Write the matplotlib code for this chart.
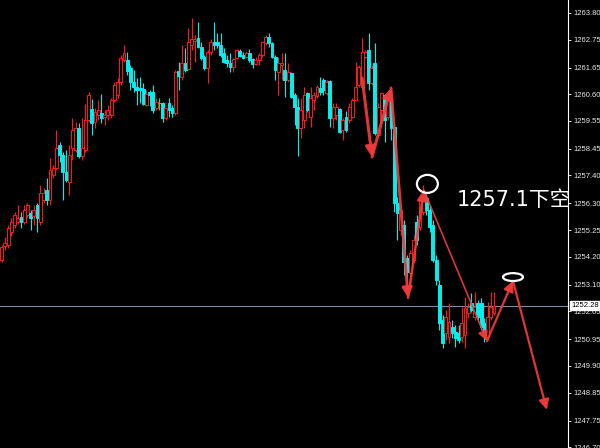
#!/usr/bin/env python3
# -*- coding: utf-8 -*-

import matplotlib
matplotlib.use("Agg")
import matplotlib.pyplot as plt
import matplotlib.transforms as mtransforms
from matplotlib.patches import Rectangle, Ellipse, FancyArrowPatch

# świece
opens = [1254.07, 1254.62, 1254.66, 1255.18, 1255.45, 1255.57, 1255.77, 1255.57, 1255.85, 1255.92,
         1255.81, 1256.24, 1255.57, 1256.44, 1256.83, 1256.44, 1257.42, 1257.70, 1258.60, 1258.21,
         1257.54, 1257.14, 1258.48, 1258.40, 1259.27, 1258.17, 1258.40, 1259.59, 1260.02, 1259.51,
         1259.78, 1259.86, 1259.70, 1259.78, 1259.78, 1260.37, 1260.57, 1261.08, 1261.95, 1261.95,
         1261.63, 1261.08, 1260.88, 1260.85, 1260.81, 1260.18, 1260.69, 1260.69, 1260.06, 1260.24,
         1260.25, 1259.66, 1260.25, 1260.06, 1259.86, 1261.51, 1261.28, 1261.83, 1261.59, 1262.54,
         1262.70, 1262.81, 1262.46, 1262.07, 1261.63, 1262.26, 1262.66, 1262.66, 1262.54, 1262.22,
         1261.95, 1261.83, 1261.67, 1262.03, 1262.30, 1262.14, 1262.07, 1262.22, 1261.99, 1261.79,
         1261.95, 1262.14, 1262.62, 1262.85, 1262.62, 1262.07, 1261.48, 1261.75, 1261.55, 1261.16,
         1261.44, 1260.57, 1260.10, 1259.27, 1259.59, 1260.65, 1259.70, 1260.37, 1260.53, 1260.85,
         1261.16, 1260.65, 1261.12, 1259.66, 1259.78, 1260.02, 1259.19, 1259.70, 1259.59, 1259.70,
         1260.37, 1260.96, 1260.88, 1262.07, 1262.34, 1261.04, 1261.83, 1259.00, 1259.98, 1260.57,
         1259.70, 1260.37, 1259.31, 1256.32, 1255.25, 1255.45, 1254.15, 1253.56, 1254.07, 1255.57,
         1255.37, 1255.96, 1256.51, 1256.04, 1255.45, 1254.07, 1253.09, 1251.71, 1251.20, 1251.04,
         1251.44, 1251.24, 1251.20, 1251.04, 1251.12, 1251.99, 1252.38, 1251.83, 1252.38, 1252.38,
         1251.59, 1251.04, 1251.83, 1251.99]
highs = [1254.66, 1254.98, 1255.45, 1255.73, 1255.96, 1256.24, 1255.96, 1256.24, 1256.32, 1256.04,
         1256.24, 1256.32, 1257.03, 1256.91, 1257.30, 1258.09, 1257.81, 1259.19, 1258.72, 1258.33,
         1258.40, 1258.60, 1259.66, 1259.51, 1259.47, 1259.66, 1260.22, 1260.69, 1260.41, 1260.06,
         1260.37, 1260.61, 1259.98, 1260.18, 1260.45, 1261.08, 1261.24, 1262.14, 1262.54, 1262.26,
         1261.75, 1261.55, 1261.24, 1261.28, 1261.04, 1260.77, 1260.77, 1260.96, 1260.45, 1260.45,
         1260.29, 1260.06, 1260.45, 1260.18, 1261.55, 1261.87, 1262.54, 1262.42, 1263.21, 1263.60,
         1262.93, 1263.44, 1262.66, 1262.14, 1262.34, 1262.77, 1263.44, 1263.01, 1263.01, 1262.42,
         1262.14, 1262.22, 1262.03, 1262.38, 1262.38, 1262.26, 1262.30, 1262.38, 1262.03, 1262.07,
         1262.22, 1262.70, 1262.93, 1263.01, 1262.66, 1262.14, 1262.07, 1262.22, 1262.22, 1261.83,
         1261.48, 1260.65, 1260.45, 1260.45, 1260.88, 1260.69, 1260.88, 1260.69, 1260.96, 1261.28,
         1261.24, 1261.16, 1261.16, 1260.25, 1260.25, 1260.06, 1259.66, 1259.94, 1260.25, 1260.45,
         1261.87, 1261.75, 1262.81, 1262.34, 1263.01, 1261.75, 1262.62, 1260.25, 1260.69, 1260.61,
         1260.49, 1260.45, 1259.39, 1256.55, 1256.24, 1255.65, 1254.27, 1254.47, 1255.06, 1255.85,
         1256.63, 1257.03, 1256.75, 1256.24, 1255.65, 1254.27, 1253.29, 1251.91, 1252.11, 1252.38,
         1251.71, 1251.51, 1251.51, 1252.22, 1252.62, 1252.38, 1252.77, 1252.81, 1252.50, 1252.58,
         1251.79, 1252.42, 1252.81, 1252.81]
lows = [1254.00, 1254.47, 1254.55, 1255.02, 1255.33, 1255.49, 1255.33, 1255.49, 1255.73, 1255.25,
        1255.45, 1255.18, 1255.45, 1256.32, 1256.24, 1256.24, 1257.30, 1257.62, 1257.93, 1256.44,
        1257.14, 1256.63, 1258.01, 1258.33, 1258.09, 1258.01, 1258.33, 1259.51, 1259.00, 1259.27,
        1259.59, 1259.47, 1259.39, 1259.59, 1259.66, 1260.29, 1260.45, 1260.96, 1261.87, 1261.36,
        1260.77, 1260.69, 1260.18, 1260.25, 1260.18, 1260.14, 1260.14, 1259.86, 1259.98, 1259.98,
        1259.51, 1259.59, 1259.70, 1259.70, 1259.78, 1260.77, 1261.16, 1261.48, 1261.55, 1262.34,
        1261.87, 1262.42, 1261.95, 1261.55, 1261.04, 1262.14, 1262.34, 1262.42, 1262.07, 1261.83,
        1261.67, 1261.48, 1261.48, 1261.99, 1262.07, 1261.99, 1262.03, 1261.87, 1261.63, 1261.75,
        1261.75, 1262.07, 1262.54, 1262.46, 1262.03, 1261.16, 1260.57, 1261.16, 1260.49, 1261.08,
        1260.45, 1259.39, 1258.17, 1258.88, 1259.27, 1259.90, 1259.31, 1259.98, 1260.45, 1260.57,
        1260.57, 1260.57, 1259.31, 1259.27, 1259.59, 1259.07, 1258.80, 1259.11, 1259.47, 1259.66,
        1260.33, 1260.88, 1260.85, 1262.03, 1260.77, 1260.96, 1259.00, 1258.92, 1259.47, 1258.72,
        1259.59, 1258.80, 1255.96, 1254.86, 1255.06, 1253.48, 1252.81, 1253.09, 1253.96, 1254.66,
        1255.25, 1255.85, 1255.85, 1255.18, 1254.00, 1253.09, 1251.32, 1250.61, 1250.92, 1250.81,
        1251.00, 1250.65, 1250.81, 1250.85, 1250.61, 1251.79, 1252.03, 1251.71, 1251.71, 1251.32,
        1250.85, 1250.92, 1251.71, 1251.91]
closes = [1254.59, 1254.74, 1255.33, 1255.57, 1255.85, 1255.73, 1255.57, 1256.04, 1256.24, 1255.73,
          1256.04, 1255.73, 1256.71, 1256.71, 1256.44, 1257.62, 1257.70, 1258.48, 1258.21, 1257.54,
          1257.22, 1258.21, 1259.19, 1259.27, 1258.17, 1258.48, 1259.59, 1260.57, 1259.47, 1259.90,
          1259.98, 1259.66, 1259.78, 1259.98, 1260.37, 1260.96, 1261.08, 1262.03, 1262.22, 1261.51,
          1261.08, 1260.88, 1260.77, 1260.77, 1260.22, 1260.61, 1260.57, 1259.98, 1260.29, 1260.24,
          1259.66, 1260.06, 1259.98, 1259.86, 1261.48, 1261.32, 1261.83, 1261.55, 1262.66, 1262.77,
          1262.77, 1262.46, 1262.03, 1261.63, 1262.26, 1262.66, 1262.54, 1262.54, 1262.14, 1261.87,
          1261.83, 1261.67, 1261.99, 1262.34, 1262.11, 1262.03, 1262.22, 1261.95, 1261.79, 1261.95,
          1262.14, 1262.66, 1262.85, 1262.62, 1262.07, 1261.55, 1261.83, 1261.83, 1261.16, 1261.48,
          1260.49, 1260.10, 1259.27, 1259.98, 1260.57, 1259.98, 1260.45, 1260.57, 1260.88, 1260.69,
          1260.77, 1261.08, 1259.66, 1260.10, 1260.10, 1259.11, 1259.59, 1259.19, 1260.10, 1260.37,
          1260.88, 1261.67, 1262.26, 1262.26, 1261.04, 1261.63, 1259.07, 1260.10, 1260.65, 1259.59,
          1260.37, 1259.27, 1256.32, 1255.92, 1256.04, 1254.00, 1253.60, 1254.35, 1254.86, 1254.86,
          1256.44, 1256.63, 1256.04, 1255.37, 1254.07, 1253.29, 1251.59, 1250.81, 1251.83, 1251.63,
          1251.20, 1251.00, 1250.92, 1251.59, 1252.18, 1252.22, 1252.11, 1252.22, 1251.83, 1251.44,
          1251.20, 1251.83, 1252.22, 1252.28]

# skala cen po prawej
tick_prices = [1263.80, 1262.75, 1261.65, 1260.60, 1259.55, 1258.45, 1257.40, 1256.30, 1255.25,
               1254.20, 1253.10, 1252.05, 1250.95, 1249.90, 1248.85, 1247.75, 1246.70]
last_price = 1252.28

# strzałki (indeks świecy, cena)
wave_x = [112.0, 115.1, 121.0, 126.3, 131.2, 150.8, 158.9, 169.4]
wave_y = [1261.24, 1258.13, 1260.85, 1252.58, 1256.83, 1250.88, 1253.25, 1248.17]
wave_lw = [2.2, 2.2, 2.0, 1.8, 1.2, 1.6, 1.6]

# kółka
mark_x = [132.3, 158.9]
mark_y = [1257.07, 1253.40]
mark_w = [6.5, 6.2]
mark_h = [0.71, 0.31]

label_text = "1257.1下空"

UP = "#ff1a1a"
DOWN = "#00f0f0"
DOJI = "#00ff00"


def draw_candles(ax):
    w = 0.9
    for i in range(len(opens)):
        o, h, l, c = opens[i], highs[i], lows[i], closes[i]
        top, bot = max(o, c), min(o, c)
        if c > o:
            col, face = UP, "black"
        elif c < o:
            col, face = DOWN, DOWN
        else:
            col, face = DOJI, DOJI
        ax.vlines(i, top, h, color=col, lw=0.8, zorder=1)
        ax.vlines(i, l, bot, color=col, lw=0.8, zorder=1)
        ax.add_patch(Rectangle((i - w / 2, bot), w, max(top - bot, 0.02),
                               facecolor=face, edgecolor=col, lw=0.7, zorder=2))


def draw_waves(ax):
    for k in range(len(wave_x) - 1):
        arr = FancyArrowPatch((wave_x[k], wave_y[k]), (wave_x[k + 1], wave_y[k + 1]),
                              arrowstyle="-|>,head_length=0.6,head_width=0.3",
                              mutation_scale=10, lw=wave_lw[k], color="#f23a3a",
                              shrinkA=0, shrinkB=0, alpha=0.92, zorder=4)
        ax.add_patch(arr)
    for k in range(len(mark_x)):
        ax.add_patch(Ellipse((mark_x[k], mark_y[k]), mark_w[k], mark_h[k],
                             fill=False, edgecolor="white", lw=1.6, zorder=5))


def main():
    fig = plt.figure(figsize=(6, 4.48), dpi=100, facecolor="black")
    ax = fig.add_axes([0, 0, 568 / 600, 1])
    ax.set_facecolor("black")

    draw_candles(ax)
    ax.axhline(last_price, color="#7f8ca8", lw=0.8, zorder=0)
    draw_waves(ax)

    ax.set_xlim(-0.53, 176.0)
    ax.set_ylim(1246.67, 1264.31)

    for s in ["top", "left", "bottom"]:
        ax.spines[s].set_visible(False)
    ax.spines["right"].set_color("white")
    ax.spines["right"].set_linewidth(0.8)
    ax.set_xticks([])
    ax.yaxis.tick_right()
    ax.set_yticks(tick_prices)
    ax.set_yticklabels([f"{p:.2f}" for p in tick_prices])
    ax.tick_params(axis="y", colors="white", length=2.5, width=0.6, pad=1.5,
                   labelsize=5.5, labelcolor="#e8e8e8")
    for t in ax.get_yticklabels():
        t.set_fontfamily("Liberation Sans")

    trans = mtransforms.blended_transform_factory(ax.transAxes, ax.transData)
    ax.text(1.0 + 3 / 568, last_price, f"{last_price:.2f}", transform=trans,
            fontsize=5.5, family="Liberation Sans", color="black", va="center", ha="left",
            bbox=dict(boxstyle="square,pad=0.15", facecolor="white", edgecolor="white"),
            zorder=10, clip_on=False)

    fig.text(457 / 600, 1 - 206 / 448, label_text, fontsize=15, color="white",
             family=["DejaVu Sans", "Noto Sans CJK SC"], va="baseline", ha="left", zorder=10)

    fig.savefig("out.png", dpi=100, facecolor="black")


if __name__ == "__main__":
    main()
